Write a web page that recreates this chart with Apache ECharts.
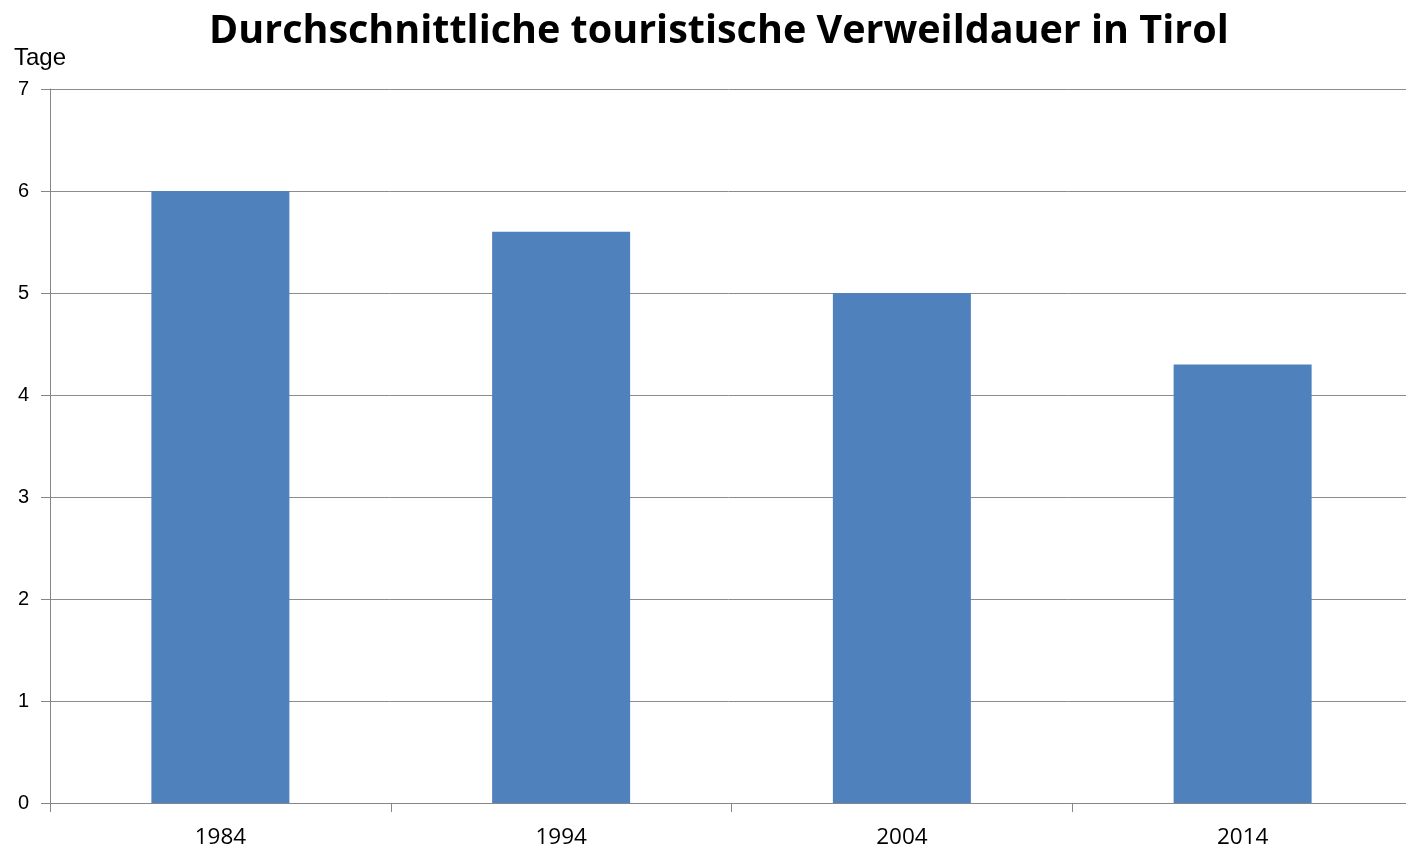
<!DOCTYPE html>
<html>
<head>
<meta charset="utf-8">
<script src="https://cdn.jsdelivr.net/npm/echarts@6/dist/echarts.min.js"></script>
<style>
  html, body { margin: 0; padding: 0; background: #fff; overflow: hidden; }
  #chart { width: 1406px; height: 852px; }
</style>
</head>
<body>
<div id="chart"></div>
<script>
var years = ['1984', '1994', '2004', '2014'];
var tage = [6.0, 5.6, 5.0, 4.3];

var myChart = echarts.init(document.getElementById('chart'));
var option = {
    animation: false,
    title: {
        text: 'Durchschnittliche touristische Verweildauer in Tirol',
        left: 204,
        top: 7,
        textStyle: {
            fontFamily: 'Open Sans',
            fontWeight: 'bold',
            fontSize: 39.5,
            color: '#000'
        }
    },
    grid: {
        top: 89,
        left: 50,
        width: 1363,
        bottom: 49,
        outerBoundsMode: 'none'
    },
    xAxis: {
        type: 'category',
        data: years,
        axisLine: { lineStyle: { color: '#868686', width: 1 } },
        axisTick: { show: true, length: 9, lineStyle: { color: '#868686' } },
        axisLabel: {
            fontFamily: 'Open Sans',
            fontSize: 22.5,
            color: '#000',
            margin: 23
        }
    },
    yAxis: {
        type: 'value',
        min: 0,
        max: 7,
        interval: 1,
        name: 'Tage',
        nameLocation: 'end',
        nameGap: 19,
        nameTextStyle: {
            fontFamily: 'Liberation Sans',
            fontSize: 24,
            color: '#000',
            align: 'left',
            padding: [0, 0, 0, -36]
        },
        axisLine: { show: true, lineStyle: { color: '#868686', width: 1 } },
        axisTick: { show: true, length: 9, lineStyle: { color: '#868686' } },
        axisLabel: {
            fontFamily: 'Liberation Sans',
            fontSize: 20,
            color: '#000',
            margin: 21
        },
        splitLine: { lineStyle: { color: '#8c8c8c', width: 1 } }
    },
    series: [{
        type: 'bar',
        data: tage,
        barWidth: '40.5%',
        itemStyle: { color: '#4F81BD' }
    }]
};
myChart.setOption(option);
</script>
</body>
</html>
